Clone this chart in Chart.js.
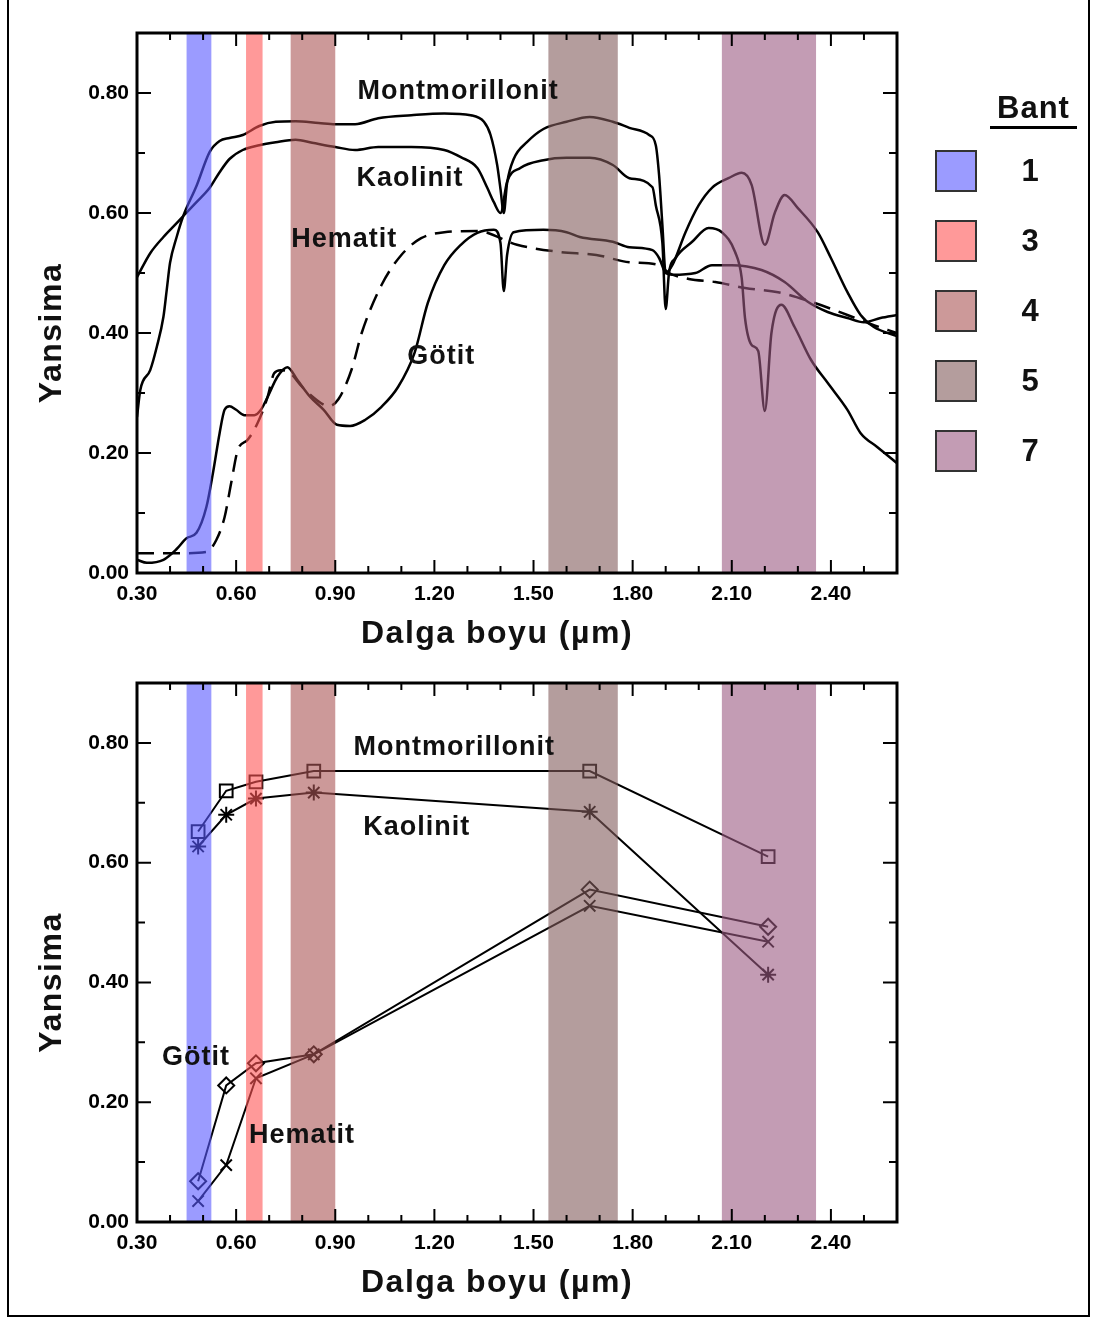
<!DOCTYPE html>
<html>
<head>
<meta charset="utf-8">
<title>Yansima - Dalga boyu</title>
<script src="https://cdn.jsdelivr.net/npm/chart.js@4.4.1/dist/chart.umd.min.js"></script>
<style>
    html, body { margin: 0; padding: 0; background: #fff; }
    #page { position: relative; width: 1097px; height: 1319px; overflow: hidden; font-family: 'Liberation Sans', Arial, sans-serif; }
    #frame { position: absolute; left: 7px; top: -3px; width: 1083px; height: 1320px; border: 2px solid #000; box-sizing: border-box; }
    #topChart { position: absolute; left: 0; top: 0; }
    #bottomChart { position: absolute; left: 0; top: 660px; }
    #legend-title { position: absolute; left: 990px; top: 90px; width: 87px; text-align: center; font-weight: bold; font-size: 31px; line-height: 36px; letter-spacing: 1px; border-bottom: 3px solid #000; color: #111; }
    .swatch { position: absolute; left: 935px; width: 42px; height: 42px; border: 2px solid #333; box-sizing: border-box; }
    .band-num { position: absolute; left: 1010px; width: 40px; text-align: center; font-weight: bold; font-size: 31px; line-height: 42px; color: #111; }
</style>
</head>
<body>
<div id="page">
    <div id="frame"></div>
    <canvas id="topChart" width="1097" height="660"></canvas>
    <canvas id="bottomChart" width="1097" height="659"></canvas>
    <div id="legend-title">Bant</div>
    <div id="legend"></div>
</div>
<script>
// Landsat TM bands (µm)
const bandNames = ['1', '3', '4', '5', '7'];
const bandStart = [0.45, 0.63, 0.765, 1.545, 2.07];
const bandEnd = [0.525, 0.68, 0.90, 1.755, 2.355];
const bandColors = ['#9b9bff', '#ff9999', '#cc9999', '#b49d9d', '#c39cb4'];

const xTicks = [0.30, 0.60, 0.90, 1.20, 1.50, 1.80, 2.10, 2.40];
const yTicks = [0.00, 0.20, 0.40, 0.60, 0.80];

// Top panel: laboratory spectra
const montWave = [0.30, 0.31, 0.34, 0.36, 0.38, 0.39, 0.40, 0.42, 0.44, 0.48, 0.52, 0.55, 0.58, 0.62, 0.67, 0.72, 0.78, 0.85, 0.90, 0.96, 1.03, 1.13, 1.23, 1.31, 1.35, 1.37, 1.39, 1.40, 1.41, 1.42, 1.44, 1.48, 1.53, 1.60, 1.67, 1.74, 1.79, 1.85, 1.87, 1.88, 1.89, 1.90, 1.92, 1.96, 2.00, 2.04, 2.09, 2.13, 2.16, 2.20, 2.23, 2.26, 2.30, 2.36, 2.40, 2.45, 2.49, 2.53, 2.60];
const montRefl = [0.26, 0.305, 0.338, 0.377, 0.427, 0.472, 0.517, 0.56, 0.595, 0.645, 0.702, 0.72, 0.725, 0.73, 0.745, 0.752, 0.753, 0.75, 0.748, 0.748, 0.758, 0.763, 0.766, 0.763, 0.752, 0.73, 0.68, 0.64, 0.60, 0.65, 0.69, 0.718, 0.74, 0.752, 0.76, 0.752, 0.742, 0.73, 0.713, 0.663, 0.58, 0.50, 0.513, 0.568, 0.613, 0.642, 0.658, 0.667, 0.647, 0.547, 0.60, 0.63, 0.608, 0.568, 0.525, 0.468, 0.43, 0.41, 0.395];

const kaolWave = [0.30, 0.34, 0.38, 0.42, 0.44, 0.48, 0.52, 0.55, 0.58, 0.62, 0.67, 0.72, 0.78, 0.83, 0.90, 0.96, 1.03, 1.13, 1.23, 1.28, 1.33, 1.36, 1.38, 1.40, 1.42, 1.46, 1.53, 1.60, 1.67, 1.74, 1.79, 1.86, 1.87, 1.89, 1.90, 1.91, 1.93, 1.98, 2.03, 2.07, 2.11, 2.13, 2.14, 2.16, 2.18, 2.20, 2.22, 2.25, 2.29, 2.34, 2.39, 2.45, 2.49, 2.54, 2.60];
const kaolRefl = [0.493, 0.533, 0.56, 0.583, 0.595, 0.618, 0.642, 0.668, 0.69, 0.705, 0.713, 0.718, 0.722, 0.717, 0.71, 0.705, 0.71, 0.71, 0.705, 0.693, 0.675, 0.642, 0.618, 0.60, 0.652, 0.675, 0.688, 0.692, 0.692, 0.68, 0.658, 0.643, 0.613, 0.55, 0.44, 0.50, 0.525, 0.552, 0.575, 0.568, 0.535, 0.492, 0.425, 0.38, 0.37, 0.27, 0.40, 0.447, 0.41, 0.355, 0.317, 0.272, 0.233, 0.21, 0.183];

const gotWave = [0.30, 0.33, 0.38, 0.42, 0.45, 0.48, 0.51, 0.53, 0.55, 0.565, 0.58, 0.60, 0.625, 0.655, 0.675, 0.695, 0.725, 0.755, 0.785, 0.825, 0.865, 0.905, 0.945, 0.99, 1.04, 1.09, 1.14, 1.18, 1.23, 1.28, 1.33, 1.38, 1.40, 1.41, 1.42, 1.44, 1.53, 1.60, 1.64, 1.74, 1.79, 1.86, 1.88, 1.90, 1.92, 1.99, 2.04, 2.10, 2.19, 2.26, 2.33, 2.39, 2.45, 2.50, 2.55, 2.60];
const gotRefl = [0.022, 0.017, 0.022, 0.04, 0.058, 0.067, 0.11, 0.167, 0.233, 0.272, 0.278, 0.272, 0.263, 0.263, 0.272, 0.293, 0.327, 0.343, 0.322, 0.293, 0.272, 0.247, 0.245, 0.255, 0.277, 0.31, 0.367, 0.45, 0.513, 0.547, 0.567, 0.572, 0.55, 0.47, 0.53, 0.568, 0.572, 0.568, 0.56, 0.552, 0.543, 0.538, 0.525, 0.50, 0.497, 0.50, 0.513, 0.513, 0.505, 0.485, 0.452, 0.435, 0.425, 0.418, 0.425, 0.43];

const hemWave = [0.30, 0.38, 0.44, 0.51, 0.54, 0.565, 0.585, 0.605, 0.635, 0.665, 0.695, 0.715, 0.735, 0.76, 0.80, 0.84, 0.88, 0.91, 0.95, 0.98, 1.04, 1.10, 1.16, 1.23, 1.33, 1.45, 1.58, 1.69, 1.79, 1.88, 1.91, 1.97, 2.05, 2.14, 2.24, 2.34, 2.45, 2.52, 2.60];
const hemRefl = [0.033, 0.033, 0.033, 0.035, 0.055, 0.093, 0.15, 0.205, 0.222, 0.25, 0.293, 0.333, 0.338, 0.335, 0.31, 0.29, 0.278, 0.29, 0.34, 0.40, 0.48, 0.53, 0.558, 0.568, 0.57, 0.547, 0.535, 0.53, 0.518, 0.513, 0.50, 0.49, 0.485, 0.475, 0.468, 0.452, 0.43, 0.415, 0.40];

// Bottom panel: band averaged reflectance (TM 1, 2, 3, 4, 5, 7)
const bandCenters = [0.485, 0.57, 0.66, 0.835, 1.67, 2.21];
const montBand = [0.652, 0.72, 0.735, 0.753, 0.753, 0.61];
const kaolBand = [0.627, 0.68, 0.707, 0.717, 0.685, 0.413];
const gotBand = [0.068, 0.228, 0.265, 0.28, 0.555, 0.493];
const hemBand = [0.035, 0.095, 0.24, 0.28, 0.528, 0.468];

// mineral name labels, anchored in data units (left edge, middle)
const topLabels = [
    { text: 'Montmorillonit', x: 0.967, y: 0.802 },
    { text: 'Kaolinit', x: 0.964, y: 0.657 },
    { text: 'Hematit', x: 0.767, y: 0.555 },
    { text: 'Götit', x: 1.118, y: 0.36 },
];
const bottomLabels = [
    { text: 'Montmorillonit', x: 0.955, y: 0.793 },
    { text: 'Kaolinit', x: 0.985, y: 0.658 },
    { text: 'Götit', x: 0.376, y: 0.275 },
    { text: 'Hematit', x: 0.639, y: 0.145 },
];

const FONT = "'Liberation Sans', Arial, sans-serif";
const BAND_ALPHA = 0.6;
Chart.defaults.font.family = FONT;
Chart.defaults.color = '#000';

// colour that gives bandColors over white when drawn with BAND_ALPHA
function overlayColor(hex) {
    const c = [1, 3, 5].map(i => parseInt(hex.substr(i, 2), 16));
    const o = c.map(v => Math.max(0, Math.round(255 - (255 - v) / BAND_ALPHA)));
    return `rgba(${o[0]},${o[1]},${o[2]},${BAND_ALPHA})`;
}

function toPoints(xs, ys) {
    return xs.map((v, i) => ({ x: v, y: ys[i] }));
}

function overlayPlugin(labels) {
    return {
        id: 'overlay',
        afterDatasetsDraw(chart) {
            const { ctx, chartArea: a, scales: { x, y } } = chart;
            ctx.save();

            // shaded TM bands, laid over the curves
            bandStart.forEach((s, i) => {
                const x0 = x.getPixelForValue(s);
                const x1 = x.getPixelForValue(bandEnd[i]);
                ctx.fillStyle = overlayColor(bandColors[i]);
                ctx.fillRect(x0, a.top, x1 - x0, a.bottom - a.top);
            });

            // inward ticks on all four sides
            ctx.strokeStyle = '#000';
            ctx.lineWidth = 2;
            ctx.beginPath();
            for (let k = 4; k <= 25; k++) {
                const px = x.getPixelForValue(k / 10);
                const len = k % 3 === 0 ? 13 : 7;
                ctx.moveTo(px, a.bottom); ctx.lineTo(px, a.bottom - len);
                ctx.moveTo(px, a.top); ctx.lineTo(px, a.top + len);
            }
            for (let k = 1; k <= 8; k++) {
                const py = y.getPixelForValue(k / 10);
                const len = k % 2 === 0 ? 14 : 8;
                ctx.moveTo(a.left, py); ctx.lineTo(a.left + len, py);
                ctx.moveTo(a.right, py); ctx.lineTo(a.right - len, py);
            }
            ctx.stroke();

            // plot frame
            ctx.lineWidth = 3;
            ctx.strokeRect(a.left, a.top, a.right - a.left, a.bottom - a.top);

            // mineral labels
            ctx.fillStyle = '#111';
            ctx.font = `bold 27px ${FONT}`;
            ctx.letterSpacing = '1px';
            ctx.textAlign = 'left';
            ctx.textBaseline = 'middle';
            labels.forEach(l => {
                ctx.fillText(l.text, x.getPixelForValue(l.x), y.getPixelForValue(l.y));
            });

            // axis titles
            ctx.font = `bold 32px ${FONT}`;
            ctx.letterSpacing = '1.5px';
            ctx.textAlign = 'center';
            ctx.fillText('Dalga boyu (µm)', (a.left + a.right) / 2 - 20, a.bottom + 61);
            ctx.translate(52, (a.top + a.bottom) / 2 + 30);
            ctx.rotate(-Math.PI / 2);
            ctx.fillText('Yansima', 0, 0);
            ctx.restore();
        }
    };
}

function makeChart(canvasId, datasets, labels, padTop, axisHeight) {
    return new Chart(document.getElementById(canvasId), {
        type: 'line',
        data: { datasets },
        options: {
            responsive: false,
            animation: false,
            layout: { padding: { left: 0, top: padTop, right: 200, bottom: 0 } },
            plugins: { legend: { display: false }, tooltip: { enabled: false } },
            scales: {
                x: {
                    type: 'linear',
                    min: 0.30,
                    max: 2.60,
                    grid: { display: false, drawTicks: false },
                    border: { display: false },
                    afterBuildTicks: scale => { scale.ticks = xTicks.map(v => ({ value: v })); },
                    afterFit: scale => { scale.height = axisHeight; },
                    ticks: {
                        autoSkip: false,
                        maxRotation: 0,
                        padding: 9,
                        font: { size: 21, weight: 'bold' },
                        callback: v => v.toFixed(2),
                    },
                },
                y: {
                    min: 0,
                    max: 0.90,
                    grid: { display: false, drawTicks: false },
                    border: { display: false },
                    afterBuildTicks: scale => { scale.ticks = yTicks.map(v => ({ value: v })); },
                    afterFit: scale => { scale.width = 137; },
                    ticks: {
                        padding: 8,
                        font: { size: 21, weight: 'bold' },
                        callback: v => v.toFixed(2),
                    },
                },
            },
        },
        plugins: [overlayPlugin(labels)],
    });
}

const curveStyle = { borderColor: '#000', borderWidth: 2.5, pointRadius: 0, cubicInterpolationMode: 'monotone', fill: false };

makeChart('topChart', [
    { label: 'Montmorillonit', data: toPoints(montWave, montRefl), ...curveStyle },
    { label: 'Kaolinit', data: toPoints(kaolWave, kaolRefl), ...curveStyle },
    { label: 'Götit', data: toPoints(gotWave, gotRefl), ...curveStyle },
    { label: 'Hematit', data: toPoints(hemWave, hemRefl), ...curveStyle, borderDash: [17, 9] },
], topLabels, 33, 87);

const markerStyle = { borderColor: '#000', borderWidth: 2, pointBorderColor: '#000', pointBackgroundColor: 'rgba(0,0,0,0)', pointBorderWidth: 2, tension: 0, fill: false };

makeChart('bottomChart', [
    { label: 'Montmorillonit', data: toPoints(bandCenters, montBand), ...markerStyle, pointStyle: 'rect', pointRadius: 9 },
    { label: 'Kaolinit', data: toPoints(bandCenters, kaolBand), ...markerStyle, pointStyle: 'star', pointRadius: 8 },
    { label: 'Götit', data: toPoints(bandCenters, gotBand), ...markerStyle, pointStyle: 'rectRot', pointRadius: 8 },
    { label: 'Hematit', data: toPoints(bandCenters, hemBand), ...markerStyle, pointStyle: 'crossRot', pointRadius: 8 },
], bottomLabels, 23, 97);

// legend for the bands
const legend = document.getElementById('legend');
bandNames.forEach((name, i) => {
    const top = 150 + i * 70;
    const sw = document.createElement('div');
    sw.className = 'swatch';
    sw.style.top = top + 'px';
    sw.style.background = bandColors[i];
    legend.appendChild(sw);
    const num = document.createElement('div');
    num.className = 'band-num';
    num.style.top = top + 'px';
    num.textContent = name;
    legend.appendChild(num);
});
</script>
</body>
</html>
